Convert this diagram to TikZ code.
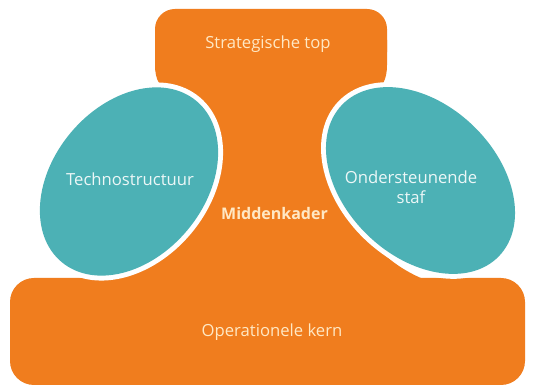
\documentclass[tikz,border=0pt]{standalone}
\usepackage{fontspec}
\setmainfont{Open Sans}
\definecolor{mzorange}{RGB}{240,125,30}
\definecolor{mzteal}{RGB}{76,177,181}
\definecolor{mzcream}{RGB}{255,232,196}
\definecolor{mzwhite}{RGB}{236,247,247}
\tikzset{
  orangefill/.style={fill=mzorange},
  tealfill/.style={fill=mzteal},
  halo/.style={fill=white},
  lbl/.style={font=\fontsize{12.5}{15}\selectfont, text=mzcream, align=center, inner sep=0pt},
  tlbl/.style={font=\fontsize{12.5}{15}\selectfont, text=mzwhite, align=center, inner sep=0pt},
}
\begin{document}
\begin{tikzpicture}[x=0.75pt,y=-0.75pt]
\useasboundingbox (0,0) rectangle (533,388);
\fill[white] (0,0) rectangle (533,388);
% top block
\fill[orangefill, rounded corners=15] (155,9) rectangle (387,72);
% base block
\fill[orangefill, rounded corners=18] (10,278) rectangle (525,385);
% middle stem
\fill[orangefill] (155,40) -- (155,65) .. controls (155,80) and (160,88) .. (172,95)
  -- (200,130) -- (200,200) .. controls (175,248) and (150,266) .. (112,281)
  -- (428,281) .. controls (395,268) and (370,248) .. (343,200)
  -- (345,130) -- (372,95) .. controls (382,88) and (387,80) .. (387,65)
  -- (387,40) -- cycle;
% left ellipse
\begin{scope}[shift={(129,181.5)}, rotate=50]
  \fill[halo] (0,0) ellipse [x radius=110, y radius=81];
  \fill[tealfill] (0,0) ellipse [x radius=105, y radius=76];
\end{scope}
% right ellipse
\begin{scope}[shift={(420.5,180.5)}, rotate=-44]
  \fill[halo] (0,0) ellipse [x radius=114, y radius=81];
  \fill[tealfill] (0,0) ellipse [x radius=109, y radius=76];
\end{scope}
\node[lbl] (top) at (268,44) {Strategische top};
\node[tlbl] (tech) at (130,179) {Technostructuur};
\node[lbl, font=\fontsize{12}{15}\selectfont\bfseries] (mid) at (274.5,214) {Middenkader};
\node[tlbl] (staf) at (411,187) {Ondersteunende\\staf};
\node[lbl] (kern) at (272,332) {Operationele kern};
\end{tikzpicture}
\end{document}
